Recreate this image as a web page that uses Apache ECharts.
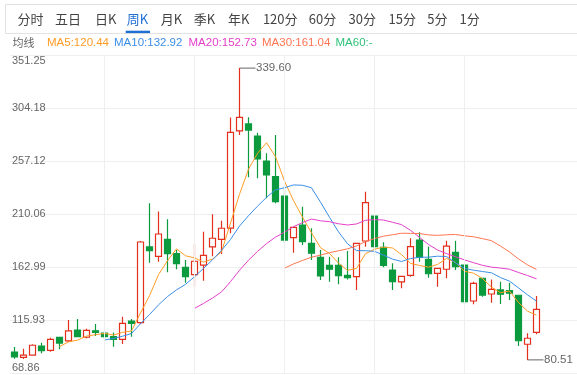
<!DOCTYPE html>
<html><head><meta charset="utf-8">
<script src="https://cdn.jsdelivr.net/npm/echarts@6/dist/echarts.min.js"></script>
<style>html,body{margin:0;padding:0;background:#fff;overflow:hidden}#c{width:577px;height:375px}</style>
</head><body><div id="c"></div>
<script>
// ---- data ----
const weeks = ['W01','W02','W03','W04','W05','W06','W07','W08','W09','W10','W11','W12','W13','W14','W15','W16','W17','W18','W19','W20','W21','W22','W23','W24','W25','W26','W27','W28','W29','W30','W31','W32','W33','W34','W35','W36','W37','W38','W39','W40','W41','W42','W43','W44','W45','W46','W47','W48','W49','W50','W51','W52','W53','W54','W55','W56','W57','W58','W59'];
const openP  = [87.5,82.8,84.8,92.8,89.0,100.5,97.3,107.0,100.6,106.4,104.2,101.1,98.8,115.0,113.6,180.8,172.5,187.6,174.8,162.7,156.2,164.7,180.8,187.6,197.6,283.8,290.0,279.3,257.1,243.2,226.0,189.0,200.3,184.0,171.6,164.5,164.5,155.6,154.4,186.1,208.3,180.5,160.3,149.7,155.6,186.9,169.8,157.4,161.0,176.0,164.7,132.8,153.0,139.0,142.6,142.0,137.9,94.4,105.0];
const closeP = [83.1,84.8,93.5,88.7,98.8,95.4,106.2,101.1,106.8,105.0,101.1,98.8,113.0,113.0,185.2,177.5,192.3,174.8,165.9,154.4,168.1,173.4,188.5,197.4,282.6,295.9,284.6,258.9,244.7,221.0,186.9,198.2,185.5,175.2,155.0,161.0,155.3,153.5,184.0,220.1,181.0,164.5,150.0,154.7,181.0,171.6,157.0,161.8,181.6,163.3,132.2,148.5,138.1,143.2,138.8,139.7,97.5,99.7,125.4];
const lowP   = [81.6,81.4,84.2,86.4,87.8,89.9,96.4,100.6,99.7,101.8,98.8,92.2,94.6,101.1,112.4,166.8,167.7,158.3,161.0,149.0,145.5,150.8,172.5,174.5,193.0,280.2,242.6,241.7,224.0,219.6,184.0,175.7,182.5,169.2,151.4,150.0,147.6,152.0,142.6,181.0,177.2,162.7,142.6,144.1,154.4,167.7,153.5,145.5,153.0,160.3,130.1,129.9,136.6,131.3,130.1,133.7,92.8,80.51,103.2];
const highP  = [92.0,90.4,94.3,95.8,100.2,101.1,115.9,116.8,108.2,112.4,106.2,104.9,118.9,116.8,186.0,219.6,212.3,205.4,178.1,169.2,183.7,194.3,209.8,204.1,295.7,339.6,295.9,282.2,263.9,280.2,234.3,198.2,216.5,197.4,178.1,172.2,171.6,177.2,184.0,229.9,208.3,184.9,166.3,154.7,188.5,193.8,181.2,161.8,186.3,186.3,164.7,149.9,153.0,152.0,149.9,149.1,137.9,104.1,137.2];

const ma5  = ['-','-','-','-','-',92.24,96.52,98.04,101.66,102.9,104.04,102.56,104.94,106.18,122.22,137.5,156.2,168.56,179.14,172.98,171.1,167.32,170.06,176.36,202.0,227.56,249.8,263.88,273.34,261.02,239.22,221.94,207.26,193.36,180.16,174.98,166.4,160.0,161.76,174.78,178.78,180.62,179.92,174.06,166.24,164.36,162.86,165.22,170.6,167.06,159.18,157.48,152.74,145.06,140.16,141.66,131.46,123.78,120.22];
const ma10 = ['-','-','-','-','-','-','-','-','-','-',98.14,99.54,101.49,103.92,112.56,120.77,129.38,136.75,142.66,147.6,154.3,161.76,169.31,177.75,187.49,199.33,208.56,216.97,224.85,231.51,233.39,235.87,235.57,233.35,220.59,207.1,194.17,183.63,177.56,177.47,176.88,173.51,169.96,167.91,170.51,171.57,171.74,172.57,172.33,166.65,161.77,160.17,158.98,157.83,153.61,150.42,144.47,138.26,132.64];
const ma20 = ['-','-','-','-','-','-','-','-','-','-','-','-','-','-','-','-','-','-','-','-',126.22,130.65,135.4,140.84,150.03,160.05,168.97,176.86,183.76,189.56,193.85,198.82,202.44,205.55,204.04,203.22,201.37,200.3,201.21,204.49,205.14,204.69,202.77,200.63,195.55,189.34,182.96,178.1,174.95,172.06,169.33,166.84,164.47,162.87,162.06,161.0,158.11,155.42,152.49];
const ma30 = ['-','-','-','-','-','-','-','-','-','-','-','-','-','-','-','-','-','-','-','-','-','-','-','-','-','-','-','-','-','-',161.94,165.72,168.79,171.67,173.55,175.73,177.37,179.12,181.69,185.53,188.19,190.38,191.61,193.0,192.86,192.67,191.49,191.06,191.58,191.88,190.68,189.85,188.17,186.36,181.57,176.36,170.13,164.82,160.84];

const yTickLabels = ['68.86','115.93','162.99','210.06','257.12','304.18','351.25'];
const maLegend = ['MA5:120.44','MA10:132.92','MA20:152.73','MA30:161.04','MA60:-'];
const tabs = ['分时','五日','日K','周K','月K','季K','年K','120分','60分','30分','15分','5分','1分'];

// ---- layout / style ----
const tabX = [17.6,55.1,94.9,126.8,160.7,193.8,228,262.9,308.8,348.5,388.6,427.2,459.6];
const activeTab = 3;
const legendX = [47,114,188.5,262,335.5];
const maColors = ['#ff9c26','#3a8ee6','#e43fc8','#ff7452','#2fc27a'];
const gridCols = [10,20,30,40,50];
const padCats = ['+1','+2','+3','+4'];
const UP = '#e2301c', DOWN = '#0b9b3e';
const NUMFONT = 'Liberation Sans, Arial, sans-serif';
const CJK = 'Noto Sans CJK SC, sans-serif';

const chart = echarts.init(document.getElementById('c'));
const kData = weeks.map((w, i) => [openP[i], closeP[i], lowP[i], highP[i]]);

const graphics = [];
graphics.push({type:'rect', silent:true, shape:{x:5.5, y:4.5, width:620, height:29}, style:{fill:'none', stroke:'#e2e2e2', lineWidth:1}});
tabs.forEach((t, i) => {
  graphics.push({type:'text', silent:true, x:tabX[i], y:19.5, style:{text:t, fill: i===activeTab ? '#1f6fd5' : '#444', font:'13px ' + CJK, verticalAlign:'middle', align:'left'}});
});
graphics.push({type:'rect', silent:true, shape:{x:125.7, y:30.7, width:24.3, height:2.4}, style:{fill:'#1f6fd5'}});
graphics.push({type:'text', silent:true, x:12.5, y:42.5, style:{text:'均线', fill:'#666', font:'11px ' + CJK, verticalAlign:'middle'}});
maLegend.forEach((t, i) => {
  graphics.push({type:'text', silent:true, x:legendX[i], y:42.5, style:{text:t, fill:maColors[i], font:'11.5px ' + NUMFONT, verticalAlign:'middle'}});
});

function maSeries(name, data, color) {
  return {name, type:'line', data, showSymbol:false, symbol:'none', smooth:false, z:4,
    lineStyle:{color, width:1}, itemStyle:{color}, emphasis:{disabled:true}};
}

chart.setOption({
  animation:false,
  grid:{left:10, right:0, top:55, bottom:2},
  xAxis:{type:'category', data:weeks.concat(padCats), boundaryGap:true,
    axisLine:{show:false}, axisTick:{show:false}, axisLabel:{show:false}, splitLine:{show:false}},
  yAxis:{type:'value', min:68.86, max:351.25, interval:47.065, position:'left',
    axisLine:{show:false}, axisTick:{show:false},
    splitLine:{show:true, lineStyle:{color:'#efefef', width:1}},
    axisLabel:{inside:true, margin:2, color:'#666', fontSize:11, fontFamily:NUMFONT,
      verticalAlignMinLabel:'bottom', verticalAlignMaxLabel:'top',
      formatter:(v, i) => yTickLabels[i] !== undefined ? yTickLabels[i] : ''}},
  series:[
    {type:'line', data:[], z:1, silent:true,
      markLine:{silent:true, symbol:['none','none'], label:{show:false}, animation:false,
        lineStyle:{color:'#efefef', type:'solid', width:1}, emphasis:{disabled:true},
        data:gridCols.map(i => ({xAxis:i}))}},
    {type:'candlestick', data:kData, barWidth:6, z:3,
      itemStyle:{color:'#ffffff', color0:DOWN, borderColor:UP, borderColor0:DOWN, borderWidth:1.2}},
    maSeries('MA5', ma5, maColors[0]),
    maSeries('MA10', ma10, maColors[1]),
    maSeries('MA20', ma20, maColors[2]),
    maSeries('MA30', ma30, maColors[3])
  ],
  graphic:graphics
});

// annotations for highest high and lowest low, positioned through the axes
const hiVal = Math.max(...highP), hiIdx = highP.indexOf(hiVal);
const loVal = Math.min(...lowP), loIdx = lowP.indexOf(loVal);
const ph = chart.convertToPixel({gridIndex:0}, [hiIdx, hiVal]);
const pl = chart.convertToPixel({gridIndex:0}, [loIdx, loVal]);
const ann = [
  {type:'line', silent:true, shape:{x1:ph[0], y1:ph[1], x2:ph[0]+16, y2:ph[1]}, style:{stroke:'#666', lineWidth:1}},
  {type:'text', silent:true, x:ph[0]+16.5, y:ph[1], style:{text:hiVal.toFixed(2), fill:'#666', font:'11.5px ' + NUMFONT, verticalAlign:'middle'}},
  {type:'line', silent:true, shape:{x1:pl[0], y1:pl[1], x2:pl[0]+16, y2:pl[1]}, style:{stroke:'#666', lineWidth:1}},
  {type:'text', silent:true, x:pl[0]+16.5, y:pl[1], style:{text:loVal.toFixed(2), fill:'#666', font:'11.5px ' + NUMFONT, verticalAlign:'middle'}}
];
chart.setOption({graphic:graphics.concat(ann)});
</script>
</body></html>
